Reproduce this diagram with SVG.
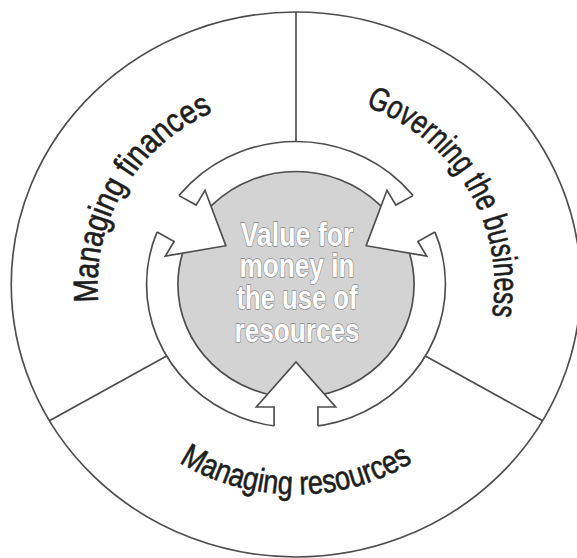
<svg xmlns="http://www.w3.org/2000/svg" width="577" height="558" viewBox="0 0 577 558">
  <style>
    .ln { fill: none; stroke: #4d4d4d; stroke-width: 1.6; }
    .blank { fill: #ffffff; stroke: none; }
    .lbl { font-family: "Liberation Sans Narrow", "Liberation Sans", Arial, sans-serif; font-size: 33px; fill: #1d1d1d; stroke: #1d1d1d; stroke-width: 0.6; }
    .core-txt { font-family: "Liberation Sans Narrow", "Liberation Sans", Arial, sans-serif; font-size: 33px; font-weight: bold; fill: #ffffff; stroke: #8a8a8a; stroke-width: 1.4; paint-order: stroke; text-anchor: middle; }
  </style>
  <defs>
    <!-- inward-pointing arrow, drawn at 6 o'clock; rotated copies for the other sectors -->
    <path id="arrowFill" d="M-21 150 L-21 122.5 L-38 122.5 L0 77.5 L38 122.5 L21 122.5 L21 150 Z"/>
    <path id="arrowEdge" d="M-21 141.4 L-21 122.5 L-38 122.5 L0 77.5 L38 122.5 L21 122.5 L21 141.4"/>
    <!-- baselines for the sector labels -->
    <path id="arcFin" d="M-164.54 95 A190 190 0 0 1 0 -190"/>
    <path id="arcGov" d="M0 -190 A190 190 0 0 1 164.54 95"/>
    <path id="arcRes" d="M-181.87 105 A210 210 0 0 0 181.87 105"/>
  </defs>

  <rect width="577" height="558" fill="#ffffff"/>

  <g transform="translate(296 284.5) scale(1.045 1)">
    <g id="outer-circle">
      <circle r="272.5" class="ln"/>
    </g>

    <g id="connectors" class="ln">
      <line x1="0" y1="-143" x2="0" y2="-272.5"/>
      <line x1="123.8" y1="71.5" x2="236" y2="136.25"/>
      <line x1="-123.8" y1="71.5" x2="-236" y2="136.25"/>
    </g>

    <g id="core">
      <circle r="113" fill="#d3d3d3"/>
    </g>

    <g id="ring">
      <circle r="113" class="ln"/>
      <circle r="143" class="ln"/>
    </g>

    <g id="arrow-resources">
      <use href="#arrowFill" class="blank"/>
      <use href="#arrowEdge" class="ln"/>
    </g>
    <g id="arrow-finances" transform="rotate(120)">
      <use href="#arrowFill" class="blank"/>
      <use href="#arrowEdge" class="ln"/>
    </g>
    <g id="arrow-governing" transform="rotate(240)">
      <use href="#arrowFill" class="blank"/>
      <use href="#arrowEdge" class="ln"/>
    </g>

    <g id="sector-finances">
      <text class="lbl"><textPath href="#arcFin" startOffset="50%" text-anchor="middle" textLength="234" lengthAdjust="spacingAndGlyphs">Managing finances</textPath></text>
    </g>
    <g id="sector-governing">
      <text class="lbl"><textPath href="#arcGov" startOffset="50%" text-anchor="middle" textLength="262" lengthAdjust="spacingAndGlyphs">Governing the business</textPath></text>
    </g>
    <g id="sector-resources">
      <text class="lbl"><textPath href="#arcRes" startOffset="50%" text-anchor="middle" textLength="236" lengthAdjust="spacingAndGlyphs">Managing resources</textPath></text>
    </g>
  </g>

  <g id="core-label">
    <text class="core-txt" x="297" y="246" textLength="113" lengthAdjust="spacingAndGlyphs">Value for</text>
    <text class="core-txt" x="297" y="277" textLength="115" lengthAdjust="spacingAndGlyphs">money in</text>
    <text class="core-txt" x="297" y="309" textLength="121" lengthAdjust="spacingAndGlyphs">the use of</text>
    <text class="core-txt" x="297" y="342" textLength="125" lengthAdjust="spacingAndGlyphs">resources</text>
  </g>
</svg>
